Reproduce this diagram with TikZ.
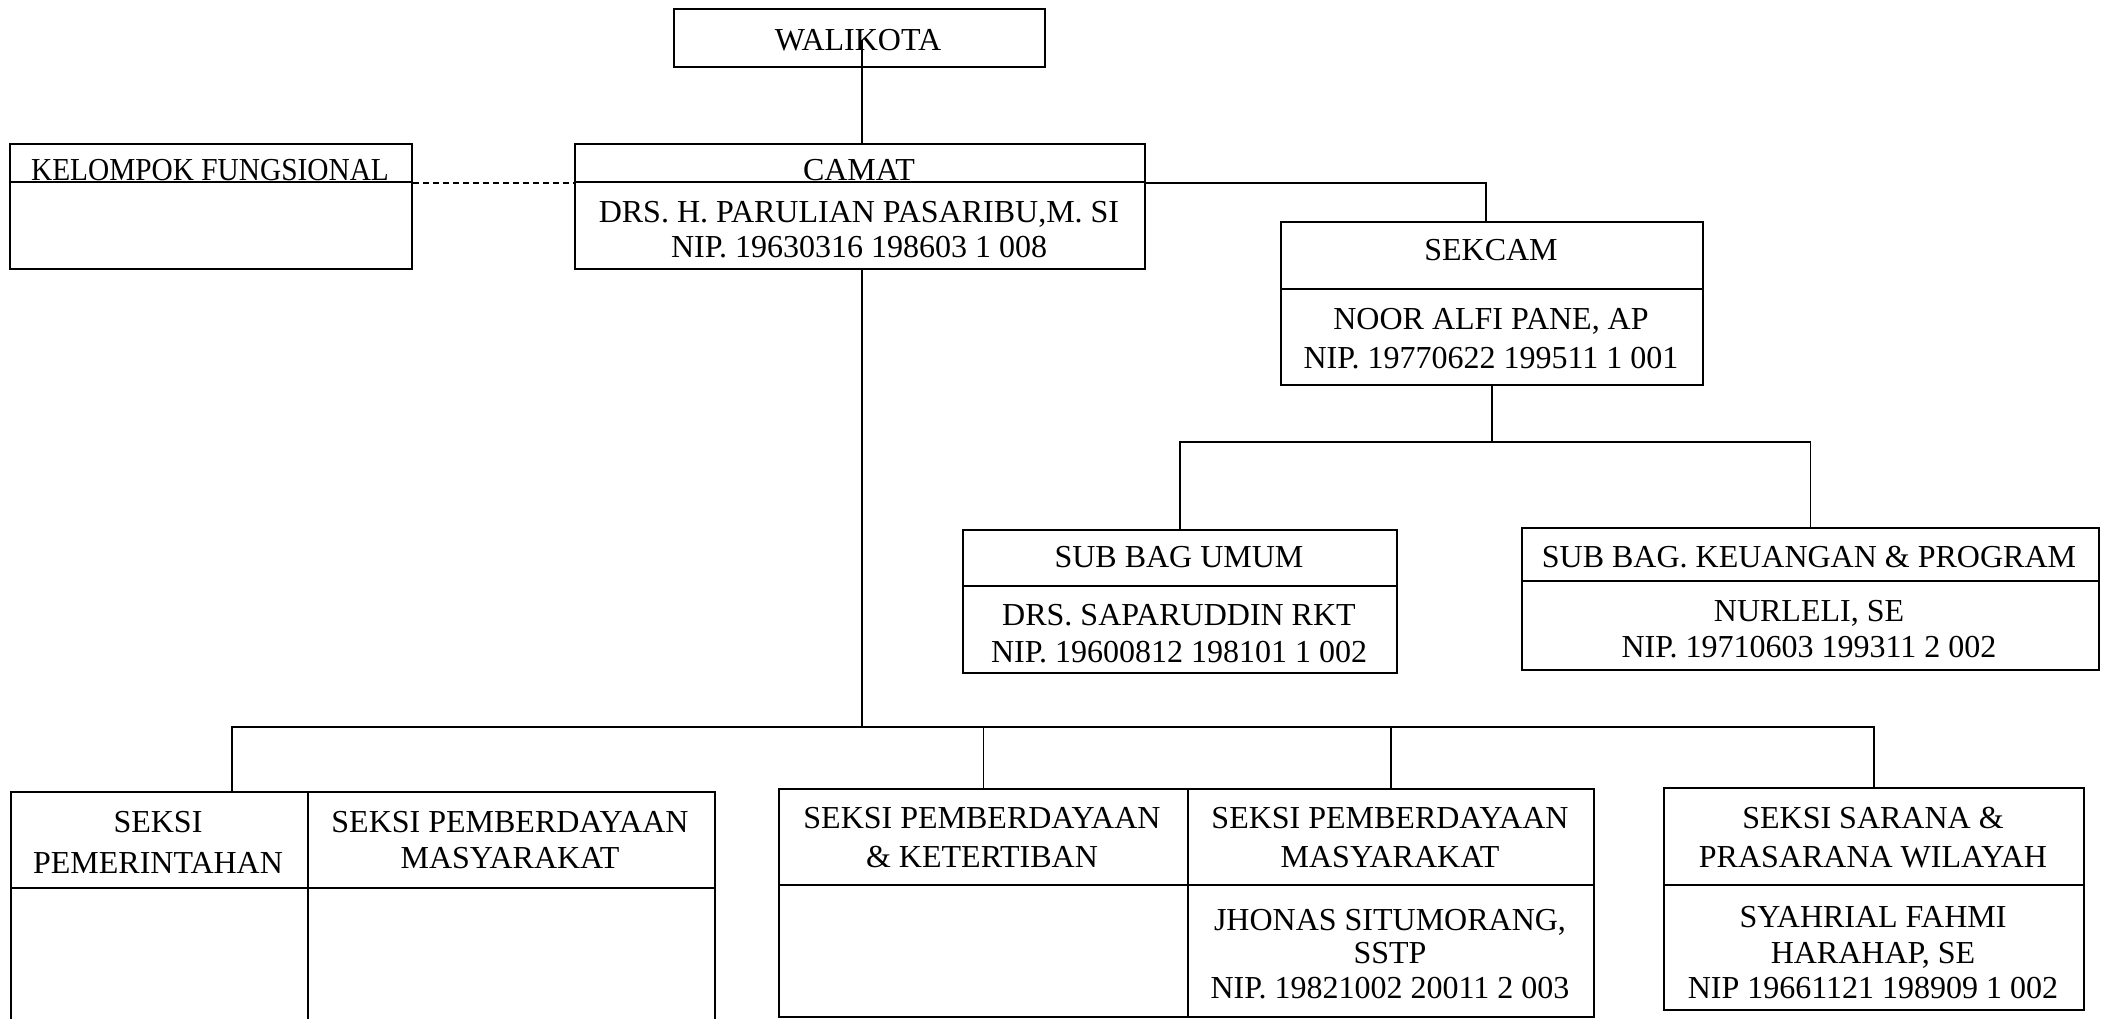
\documentclass[tikz,border=0pt]{standalone}
\usepackage{graphicx}
\usepackage{fontspec}
\setmainfont{Liberation Serif}
\begin{document}
\begin{tikzpicture}[x=1pt,y=-1pt,
  box/.style={draw, line width=1.8pt, rectangle, inner sep=0pt, anchor=north west},
  txt/.style={anchor=base, inner sep=0pt, font=\fontsize{32}{36}\selectfont},
  link/.style={line width=1.5pt},
  dashlink/.style={line width=1.5pt, dash pattern=on 6pt off 4pt}
]
\useasboundingbox (0,0) rectangle (2103,1018);
\clip (0,0) rectangle (2103,1018);

% boxes
\node[box, minimum width=371pt, minimum height=58pt] (walikota) at (673,8) {};
\node[box, minimum width=402pt, minimum height=38pt] (kelT) at (9,143) {};
\node[box, minimum width=402pt, minimum height=87pt] (kelB) at (9,181) {};
\node[box, minimum width=570pt, minimum height=38pt] (camT) at (574,143) {};
\node[box, minimum width=570pt, minimum height=87pt] (camB) at (574,181) {};
\node[box, minimum width=422pt, minimum height=67pt] (sekT) at (1280,221) {};
\node[box, minimum width=422pt, minimum height=96pt] (sekB) at (1280,288) {};
\node[box, minimum width=434pt, minimum height=56pt] (umumT) at (962,529) {};
\node[box, minimum width=434pt, minimum height=87pt] (umumB) at (962,585) {};
\node[box, minimum width=577pt, minimum height=53pt] (keuT) at (1521,527) {};
\node[box, minimum width=577pt, minimum height=89pt] (keuB) at (1521,580) {};
\node[box, minimum width=297pt, minimum height=96pt] (pemT) at (10,791) {};
\node[box, minimum width=297pt, minimum height=153pt] (pemB) at (10,887) {};
\node[box, minimum width=407pt, minimum height=96pt] (pmaT) at (307,791) {};
\node[box, minimum width=407pt, minimum height=153pt] (pmaB) at (307,887) {};
\node[box, minimum width=409pt, minimum height=96pt] (pktT) at (778,788) {};
\node[box, minimum width=409pt, minimum height=132pt] (pktB) at (778,884) {};
\node[box, minimum width=406pt, minimum height=96pt] (pmbT) at (1187,788) {};
\node[box, minimum width=406pt, minimum height=132pt] (pmbB) at (1187,884) {};
\node[box, minimum width=420pt, minimum height=97pt] (sarT) at (1663,787) {};
\node[box, minimum width=420pt, minimum height=125pt] (sarB) at (1663,884) {};

% texts
\node[txt] (t1) at (858,50) {WALIKOTA};
\node[txt] (t2) at (210,180) {\scalebox{0.917}[1]{KELOMPOK FUNGSIONAL}};
\node[txt] (t3) at (859,180) {CAMAT};
\node[txt] (t4) at (859,222) {DRS. H. PARULIAN PASARIBU,M. SI};
\node[txt] (t5) at (859,257) {NIP. 19630316 198603 1 008};
\node[txt] (t6) at (1491,260) {SEKCAM};
\node[txt] (t7) at (1491,329) {NOOR ALFI PANE, AP};
\node[txt] (t8) at (1491,368) {NIP. 19770622 199511 1 001};
\node[txt] (t9) at (1179,567) {SUB BAG UMUM};
\node[txt] (t10) at (1179,625) {DRS. SAPARUDDIN RKT};
\node[txt] (t11) at (1179,662) {NIP. 19600812 198101 1 002};
\node[txt] (t12) at (1809,567) {SUB BAG. KEUANGAN \& PROGRAM};
\node[txt] (t13) at (1809,621) {NURLELI, SE};
\node[txt] (t14) at (1809,657) {NIP. 19710603 199311 2 002};
\node[txt] (t15) at (158,832) {SEKSI};
\node[txt] (t16) at (158,873) {PEMERINTAHAN};
\node[txt] (t17) at (510,832) {SEKSI PEMBERDAYAAN};
\node[txt] (t18) at (510,868) {MASYARAKAT};
\node[txt] (t19) at (982,828) {SEKSI PEMBERDAYAAN};
\node[txt] (t20) at (982,867) {\& KETERTIBAN};
\node[txt] (t21) at (1390,828) {SEKSI PEMBERDAYAAN};
\node[txt] (t22) at (1390,867) {MASYARAKAT};
\node[txt] (t23) at (1390,930) {JHONAS SITUMORANG,};
\node[txt] (t24) at (1390,963) {SSTP};
\node[txt] (t25) at (1390,998) {NIP. 19821002 20011 2 003};
\node[txt] (t26) at (1873,828) {SEKSI SARANA \&};
\node[txt] (t27) at (1873,867) {PRASARANA WILAYAH};
\node[txt] (t28) at (1873,927) {SYAHRIAL FAHMI};
\node[txt] (t29) at (1873,963) {HARAHAP, SE};
\node[txt] (t30) at (1873,998) {NIP 19661121 198909 1 002};

% connectors
\coordinate (wk) at (862,40);
\draw[link] (wk) -- (wk |- camT.north);
\draw[dashlink] (kelT.south east) -- (camT.south west);
\draw[link] (camT.south east) -| ([xshift=-6pt]sekT.north);
\draw[link] (sekB.south) -- ++(0,56) coordinate (sj);
\draw[link] (umumT.north) |- (sj) -| (keuT.north);
\coordinate (cj) at (862,727);
\coordinate (lj) at (232,727);
\draw[link] (wk |- camB.south) -- (cj);
\draw[link] (lj |- pemT.north) -- (lj) -- (sarT.north |- cj) -- (sarT.north);
\draw[link] (pktT.north |- cj) -- (pktT.north);
\draw[link] (pmbT.north |- cj) -- (pmbT.north);
\end{tikzpicture}
\end{document}
